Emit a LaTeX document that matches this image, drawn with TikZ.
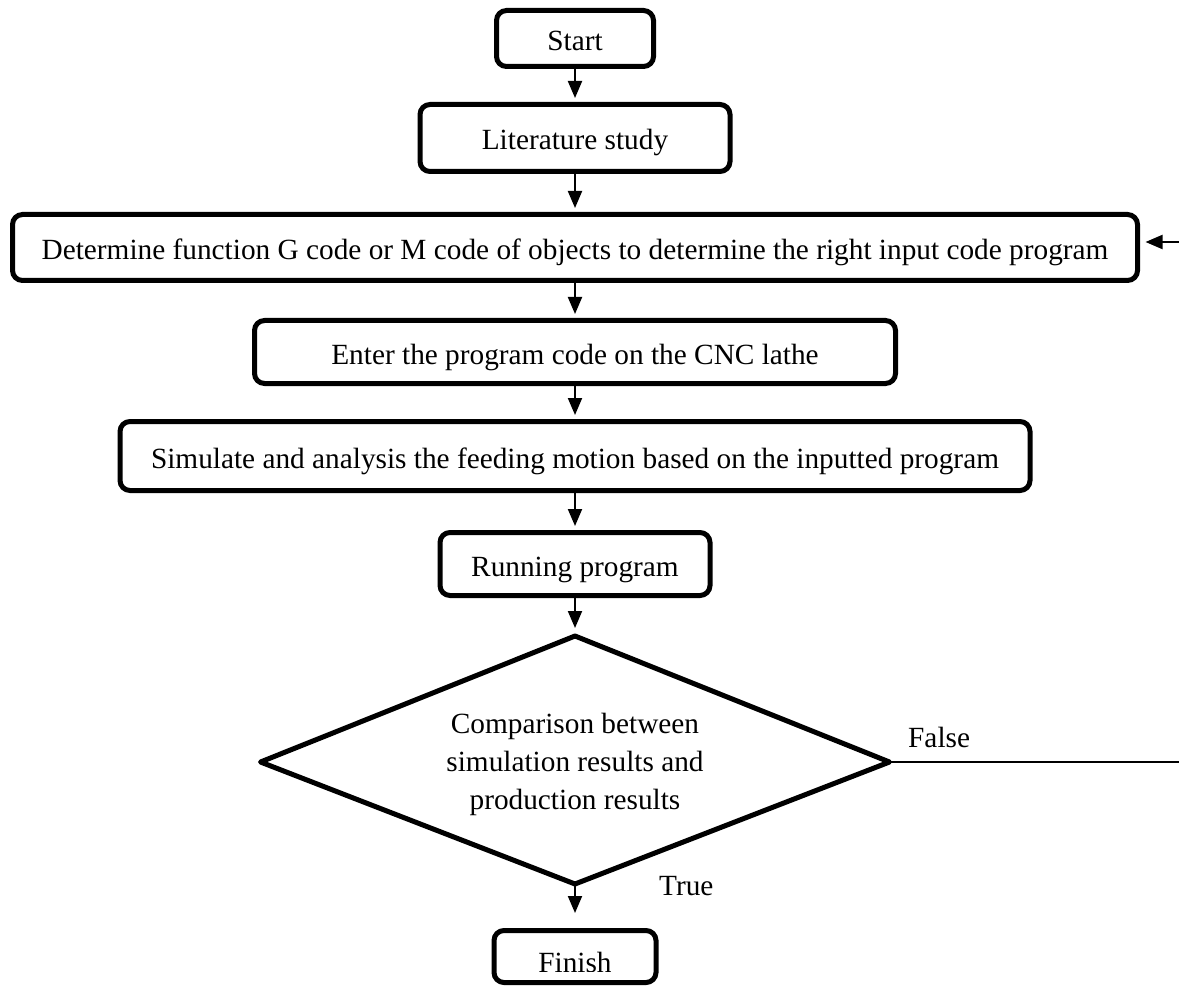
\documentclass[tikz,border=0pt]{standalone}
\usepackage{fontspec}
\setmainfont{Liberation Serif}
\usetikzlibrary{arrows.meta}
\begin{document}
\begin{tikzpicture}[x=1pt,y=-1pt,
  every node/.style={font=\fontsize{29.3}{38}\selectfont},
  box/.style={draw, line width=5pt, rounded corners=10pt, inner sep=0pt, text height=25pt, text depth=1pt},
  arr/.style={line width=2pt, -{Triangle[length=17pt,width=14pt]}},
  thinline/.style={line width=2pt},
  diam/.style={line width=5pt, line join=round},
  lbl/.style={anchor=base west, inner sep=0pt}]
\useasboundingbox (0,0) rectangle (1179,987);
\clip (0,0) rectangle (1179,987);

\node[box, minimum width=157pt, minimum height=56pt] (start) at (575,38.5) {Start};
\node[box, minimum width=310pt, minimum height=67pt] (lit) at (575,138) {Literature study};
\node[box, minimum width=1125pt, minimum height=66pt] (det) at (575,247.5) {Determine function G code or M code of objects to determine the right input code program};
\node[box, minimum width=641pt, minimum height=63pt] (enter) at (575,352) {Enter the program code on the CNC lathe};
\node[box, minimum width=910pt, minimum height=69pt] (sim) at (575,456) {Simulate and analysis the feeding motion based on the inputted program};
\node[box, minimum width=270pt, minimum height=63pt] (run) at (575,564) {Running program};

\coordinate (dt) at (575,636);
\coordinate (dr) at (889.5,762);
\coordinate (db) at (575,884);
\coordinate (dl) at (260.5,762);
\draw[diam] (dt) -- (dr) -- (db) -- (dl) -- cycle;
\node[align=center, inner sep=0pt] (cmp) at (575,764) {Comparison between\\simulation results and\\production results};

\begin{scope}
\clip (494,930) rectangle (656,971.5);
\node[anchor=base, inner sep=0pt] (fintext) at (575,972.5) {Finish};
\end{scope}
\node[box, minimum width=162pt, minimum height=52pt] (fin) at (575,956.5) {};

\coordinate (fr) at (1179,242);
\coordinate (fe) at (1179,762);

\draw[arr, shorten >=4pt] (start.south) -- (lit.north);
\draw[arr, shorten >=4pt] (lit.south) -- (det.north);
\draw[arr, shorten >=4pt] (det.south) -- (enter.north);
\draw[arr, shorten >=4pt] (enter.south) -- (sim.north);
\draw[arr, shorten >=4pt] (sim.south) -- (run.north);
\draw[arr, shorten >=8pt] (run.south) -- (dt);
\draw[arr, shorten >=15pt] (db) -- (fin.north);
\draw[arr, shorten >=5.5pt] (fr) -- (fr -| det.east);
\draw[thinline] (dr) -- (fe);

\node[lbl] (false) at (908,747) {False};
\node[lbl] (true) at (659,895) {True};
\end{tikzpicture}
\end{document}
